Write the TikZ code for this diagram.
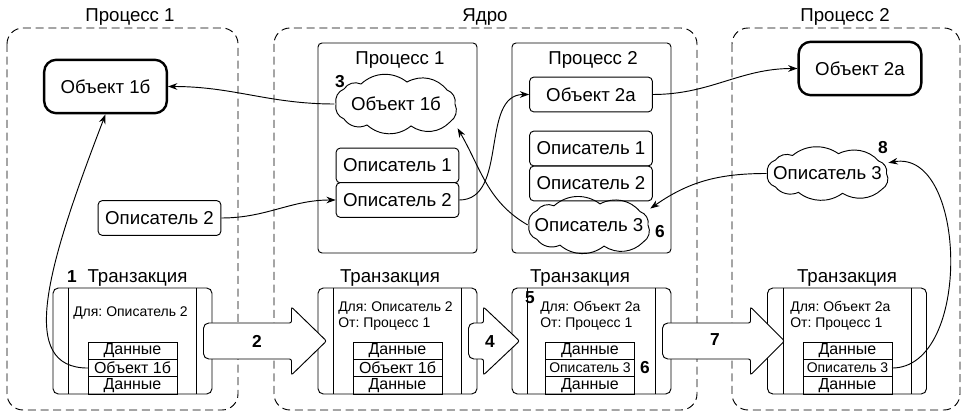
\documentclass[tikz,border=0pt]{standalone}
\usepackage{fontspec}
\setmainfont{Liberation Sans}
\usetikzlibrary{arrows.meta, positioning}
\frenchspacing

\begin{document}
\begin{tikzpicture}[
    x=0.75pt, y=-0.75pt,
    >={Stealth[length=7pt, width=5pt]},
    region/.style={draw, line width=0.7pt, dash pattern=on 6pt off 3.5pt, rounded corners=12pt},
    regtitle/.style={font=\fontsize{14}{16}\selectfont, anchor=base, inner sep=0pt},
    objbox/.style={rectangle, rounded corners=9pt, draw, line width=1.8pt, minimum width=92pt,
                   minimum height=40pt, font=\fontsize{14}{16}\selectfont},
    hbox/.style={rectangle, rounded corners=3pt, draw, line width=0.7pt, fill=white, minimum width=92pt,
                 minimum height=26pt, inner sep=1pt, font=\fontsize{14}{16}\selectfont},
    procbox/.style={rectangle, rounded corners=3pt, draw, line width=0.7pt,
                    minimum width=119.25pt, minimum height=157.5pt},
    cloudnode/.style={rectangle, inner sep=0pt, font=\fontsize{14}{16}\selectfont},
    puff/.style={draw, line width=0.7pt, every to/.style={bend right=40}},
    trans/.style={rectangle, rounded corners=4pt, draw, line width=0.7pt,
                  minimum width=119.25pt, minimum height=79.5pt},
    trline/.style={line width=0.7pt},
    trtext/.style={font=\fontsize{10.5}{12}\selectfont, anchor=base west, inner sep=0pt},
    row/.style={rectangle, draw, line width=0.7pt, minimum width=66.75pt, minimum height=13pt,
                inner sep=0pt, outer sep=0pt, font=\fontsize{12}{13}\selectfont},
    smallrow/.style={row, font=\fontsize{10.5}{12}\selectfont},
    num/.style={font=\fontsize{13}{14}\selectfont\bfseries, inner sep=0pt},
    conn/.style={->, line width=0.7pt},
    bigarrow/.style={draw, line width=0.7pt, fill=white, rounded corners=1.5pt}
]
\useasboundingbox (0,0) rectangle (965,413);

% regions
\draw[region] (7,28) rectangle (238,410);
\draw[region] (274,28) rectangle (697,410);
\draw[region] (732,28) rectangle (960,410);
\node[regtitle] (tp1) at (130,22) {Процесс 1};
\node[regtitle] (tk)  at (485,22) {Ядро};
\node[regtitle] (tp2) at (845,22) {Процесс 2};

% process 1
\node[objbox] (p1obj) at (105.5,86.5) {Объект 1б};
\node[hbox]   (p1h2)  at (159.5,218)  {Описатель 2};

% kernel
\node[procbox] (kp1) at (397.5,148) {};
\node[procbox] (kp2) at (591.5,148) {};
\node[regtitle] (kp1t) at (400,65) {Процесс 1};
\node[regtitle] (kp2t) at (593,65) {Процесс 2};
\node[cloudnode, minimum width=92pt, minimum height=36pt] (kobj1) at (396,104) {\makebox[0pt]{Объект 1б}};
\node[hbox] (kh1) at (397.5,165.5) {Описатель 1};
\node[hbox] (kh2) at (397.5,200)   {Описатель 2};
\node[hbox] (kobj2) at (591,94.5)  {Объект 2а};
\node[hbox] (k2h1)  at (591,148.5) {Описатель 1};
\node[hbox] (k2h2)  at (591,183.5) {Описатель 2};
\node[cloudnode, minimum width=91.5pt, minimum height=34.5pt] (kh3) at (589,225) {\makebox[0pt]{Описатель 3}};
\node[num] (n3)  at (340,82)  {3};
\node[num] (n6a) at (660,232) {6};

% process 2
\node[objbox] (p2obj) at (860,68.5) {Объект 2а};
\node[cloudnode, minimum width=91pt, minimum height=32pt] (p2h3) at (827.5,173.5) {\makebox[0pt]{Описатель 3}};
\node[num] (n8) at (883,148) {8};

% cloud outlines
\foreach \c/\s in {kobj1/1, kh3/0.96, p2h3/0.9}
    \draw[puff, shift={(\c.center)}, yscale=\s] (59,0) to (51,-14) to (11,-22) to (-35,-20) to (-52,-15)
        to (-60,0) to (-52,15) to (-29,21) to (15,22) to (54,18) to (59,0);

% transactions
\node[trans] (tr1) at (132.5,341) {};
\node[trans] (tr2) at (397.5,341) {};
\node[trans] (tr3) at (591.5,341) {};
\node[trans] (tr4) at (847,341)   {};
\foreach \t in {tr1,tr2,tr3,tr4} {
    \draw[trline] ([xshift=12pt]\t.north west) -- ([xshift=12pt]\t.south west);
    \draw[trline] ([xshift=-12pt]\t.north east) -- ([xshift=-12pt]\t.south east);
}
\node[num, anchor=base] (n1) at (72,283) {1};
\node[regtitle] (tr1t) at (137.5,283) {Транзакция};
\node[regtitle] (tr2t) at (390,283)   {Транзакция};
\node[regtitle] (tr3t) at (580,283)   {Транзакция};
\node[regtitle] (tr4t) at (847,283)   {Транзакция};

\node[trtext] (tr1to)   at (73,317)  {Для: Описатель 2};
\node[trtext] (tr2to)   at (338,312) {Для: Описатель 2};
\node[trtext] (tr2from) at (338,328) {От: Процесс 1};
\node[trtext] (tr3to)   at (540,312) {Для: Объект 2а};
\node[trtext] (tr3from) at (540,328) {От: Процесс 1};
\node[trtext] (tr4to)   at (790,312) {Для: Объект 2а};
\node[trtext] (tr4from) at (790,328) {От: Процесс 1};
\node[num] (n5)  at (530,298) {5};
\node[num] (n6b) at (645,368) {6};

\node[row] (tr1r1) at (132.5,350.7) {Данные};
\node[row, below=0pt of tr1r1] (tr1r2) {Объект 1б};
\node[row, below=0pt of tr1r2] (tr1r3) {Данные};
\node[row] (tr2r1) at (397.5,350.7) {Данные};
\node[row, below=0pt of tr2r1] (tr2r2) {Объект 1б};
\node[row, below=0pt of tr2r2] (tr2r3) {Данные};
\node[row] (tr3r1) at (590,350.7) {Данные};
\node[smallrow, below=0pt of tr3r1] (tr3r2) {Описатель 3};
\node[row, below=0pt of tr3r2] (tr3r3) {Данные};
\node[row] (tr4r1) at (847.5,350.7) {Данные};
\node[smallrow, below=0pt of tr4r1] (tr4r2) {Описатель 3};
\node[row, below=0pt of tr4r2] (tr4r3) {Данные};

% big arrows
\draw[bigarrow] ([xshift=-6.75pt]tr1.east) [rounded corners=4pt] -- ++(0,-18) [rounded corners=1.5pt]
    -- ++(88,0) -- ++(0,-16) -- ++(35,34) -- ++(-35,34) -- ++(0,-16) [rounded corners=4pt] -- ++(-88,0) -- cycle;
\draw[bigarrow] ([xshift=-6.75pt]tr2.east) [rounded corners=4pt] -- ++(0,-18) [rounded corners=1.5pt]
    -- ++(15,0) -- ++(0,-16) -- ++(36,34) -- ++(-36,34) -- ++(0,-16) [rounded corners=4pt] -- ++(-15,0) -- cycle;
\draw[bigarrow] ([xshift=-6.75pt]tr3.east) [rounded corners=4pt] -- ++(0,-18) [rounded corners=1.5pt]
    -- ++(88,0) -- ++(0,-16) -- ++(34,34) -- ++(-34,34) -- ++(0,-16) [rounded corners=4pt] -- ++(-88,0) -- cycle;
\node[num] (n2) at (257,341) {2};
\node[num] (n4) at (490,342) {4};
\node[num] (n7) at (715,340) {7};

% connectors
\draw[conn] (kobj1.west) to[out=180, in=0] (p1obj.east);
\draw[conn] (tr1r2.west) .. controls +(-70,0) and +(-60,156) .. (p1obj.south);
\draw[conn] (p1h2.east) to[out=0, in=180] (kh2.west);
\draw[conn] (kh2.east) to[out=0, in=180] (kobj2.west);
\draw[conn] (kh3.west) to[out=150, in=-60] (kobj1.south east);
\draw[conn] (kobj2.east) to[out=0, in=180] (p2obj.west);
\draw[conn] (p2h3.west) to[out=180, in=35] (kh3.15);
\draw[conn] (tr4r2.east) to[out=0, in=10] (p2h3.10);
\end{tikzpicture}
\end{document}
